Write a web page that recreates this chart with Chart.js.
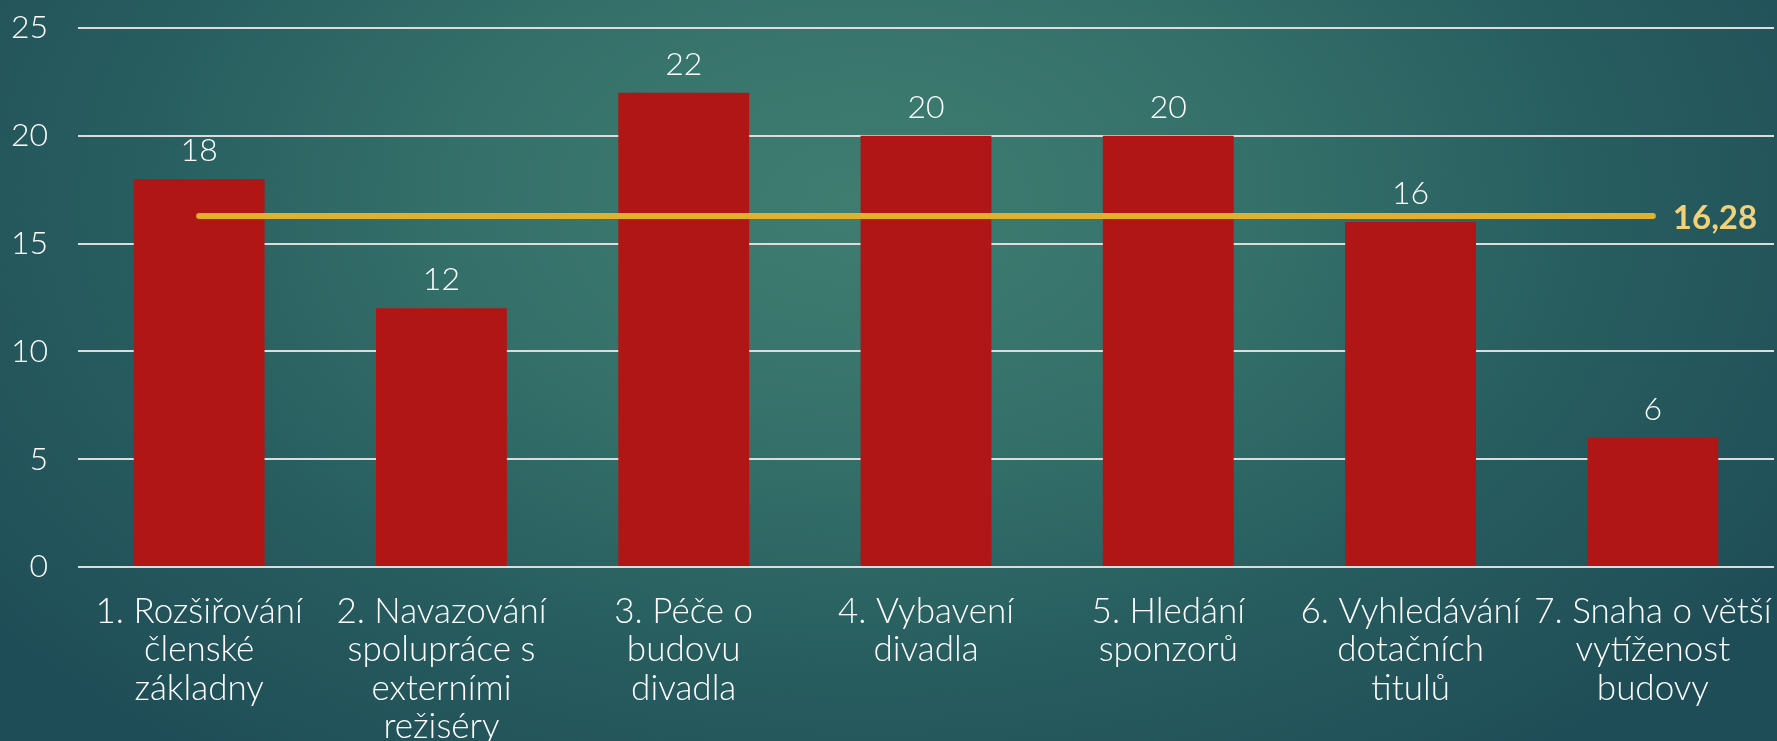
<!DOCTYPE html>
<html>
<head>
<meta charset="utf-8">
<script src="https://cdn.jsdelivr.net/npm/chart.js@4/dist/chart.umd.min.js"></script>
<style>
  html, body { margin: 0; padding: 0; overflow: hidden; }
  body {
    width: 1777px; height: 741px;
    background: radial-gradient(ellipse 1100px 700px at 860px 200px, #3f7d71 0%, #35716a 35%, #285e60 65%, #1f4d57 100%);
  }
  #wrap { position: relative; width: 1777px; height: 741px; }
</style>
</head>
<body>
<div id="wrap"><canvas id="chart" width="1777" height="741"></canvas></div>
<script>
// Data
const categories = [
    ['1. Rozšiřování', 'členské', 'základny'],
    ['2. Navazování', 'spolupráce s', 'externími', 'režiséry'],
    ['3. Péče o', 'budovu', 'divadla'],
    ['4. Vybavení', 'divadla'],
    ['5. Hledání', 'sponzorů'],
    ['6. Vyhledávání', 'dotačních', 'titulů'],
    ['7. Snaha o větší', 'vytíženost', 'budovy']
];
const scores = [18, 12, 22, 20, 20, 16, 6];
const average = 16.28;
const averageLabel = '16,28';
const yTicks = [0, 5, 10, 15, 20, 25];

const FONT = 'Lato, "Open Sans", sans-serif';

// Draws bar values above bars and the average value at the end of the line
const labelPlugin = {
    id: 'labels',
    afterDatasetsDraw(chart) {
        const ctx = chart.ctx;
        ctx.save();
        const bars = chart.getDatasetMeta(1).data;
        ctx.fillStyle = '#ffffff';
        ctx.font = '300 32px ' + FONT;
        ctx.textAlign = 'center';
        ctx.textBaseline = 'alphabetic';
        bars.forEach((bar, i) => {
            ctx.fillText(String(scores[i]), bar.x, bar.y - 18);
        });
        const pts = chart.getDatasetMeta(0).data;
        const last = pts[pts.length - 1];
        ctx.fillStyle = '#f1d27b';
        ctx.font = 'bold 33px ' + FONT;
        ctx.textAlign = 'left';
        ctx.textBaseline = 'middle';
        ctx.fillText(averageLabel, last.x + 20, last.y + 2);
        ctx.restore();
    }
};

const ctx = document.getElementById('chart').getContext('2d');
new Chart(ctx, {
    data: {
        labels: categories,
        datasets: [
            {
                type: 'line',
                data: categories.map(() => average),
                borderColor: '#e1b12c',
                borderWidth: 6,
                borderCapStyle: 'round',
                pointRadius: 0,
                order: 0
            },
            {
                type: 'bar',
                data: scores,
                backgroundColor: '#b01615',
                barPercentage: 0.54,
                categoryPercentage: 1,
                order: 1
            }
        ]
    },
    options: {
        responsive: false,
        animation: false,
        devicePixelRatio: 1,
        layout: { padding: { top: 28, right: 3, left: 0, bottom: 0 } },
        plugins: { legend: { display: false }, tooltip: { enabled: false } },
        scales: {
            x: {
                grid: { display: false },
                border: { display: false },
                ticks: {
                    color: '#ffffff',
                    font: { family: FONT, size: 35, weight: 300, lineHeight: 1.1 },
                    padding: 17,
                    maxRotation: 0,
                    autoSkip: false
                },
                afterFit(scale) {
                    scale.height = 174;
                    scale.paddingLeft = 0;
                    scale.paddingRight = 0;
                }
            },
            y: {
                min: 0,
                max: 25,
                afterBuildTicks(scale) { scale.ticks = yTicks.map(v => ({ value: v })); },
                grid: { color: '#dcdcdc', lineWidth: 2, drawTicks: false },
                border: { display: false },
                ticks: {
                    color: '#ffffff',
                    font: { family: FONT, size: 32, weight: 300 },
                    padding: 30
                },
                afterFit(scale) {
                    scale.width = 78;
                    scale.paddingTop = 0;
                    scale.paddingBottom = 0;
                }
            }
        }
    },
    plugins: [labelPlugin]
});
</script>
</body>
</html>
